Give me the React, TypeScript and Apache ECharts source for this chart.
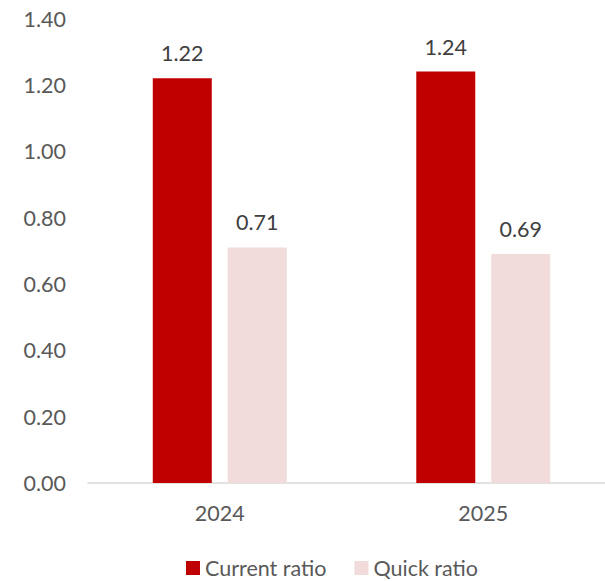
import React, { useEffect, useRef } from "react";
import * as echarts from "echarts";

const categories = ["2024", "2025"];
const currentRatio = [1.22, 1.24];
const quickRatio = [0.71, 0.69];
const seriesNames = ["Current ratio", "Quick ratio"];

export default function App() {
  const ref = useRef<HTMLDivElement>(null);
  useEffect(() => {
    if (!ref.current) return;
    const chart = echarts.init(ref.current, undefined, { renderer: "svg" });
    const font = "Lato, 'Open Sans', sans-serif";
    const fs = 21.5;
    const labelStyle = {
      show: true,
      position: "top" as const,
      distance: 14,
      color: "#404040",
      fontSize: fs,
      fontFamily: font,
      formatter: (p: any) => Number(p.value).toFixed(2),
    };
    chart.setOption({
      animation: false,
      backgroundColor: "#ffffff",
      grid: { left: 88, width: 527, top: 18.5, bottom: 98, containLabel: false },
      legend: {
        left: 181,
        top: 552,
        itemWidth: 14,
        itemHeight: 14,
        itemGap: 28,
        icon: "rect",
        textStyle: { color: "#595959", fontSize: fs, fontFamily: font },
        data: seriesNames,
      },
      xAxis: {
        type: "category",
        data: categories,
        axisLine: { lineStyle: { color: "#d9d9d9", width: 1.5 } },
        axisTick: { show: false },
        axisLabel: { color: "#595959", fontSize: fs, fontFamily: font, margin: 19 },
      },
      yAxis: {
        type: "value",
        min: 0,
        max: 1.4,
        interval: 0.2,
        splitLine: { show: false },
        axisLine: { show: false },
        axisTick: { show: false },
        axisLabel: {
          color: "#595959",
          fontSize: fs,
          fontFamily: font,
          margin: 22,
          formatter: (v: number) => v.toFixed(2),
        },
      },
      series: [
        {
          name: seriesNames[0],
          type: "bar",
          data: currentRatio,
          barWidth: 59,
          barGap: "27%",
          itemStyle: { color: "#C00000" },
          label: labelStyle,
        },
        {
          name: seriesNames[1],
          type: "bar",
          data: quickRatio,
          barWidth: 59,
          barGap: "27%",
          itemStyle: { color: "#F2DCDB" },
          label: labelStyle,
        },
      ],
    });
    return () => chart.dispose();
  }, []);
  return (
    <div style={{ width: 605, height: 581, position: "absolute", left: 0, top: 0, overflow: "hidden", background: "#fff" }}>
      <div ref={ref} style={{ width: 625, height: 581 }} />
    </div>
  );
}
